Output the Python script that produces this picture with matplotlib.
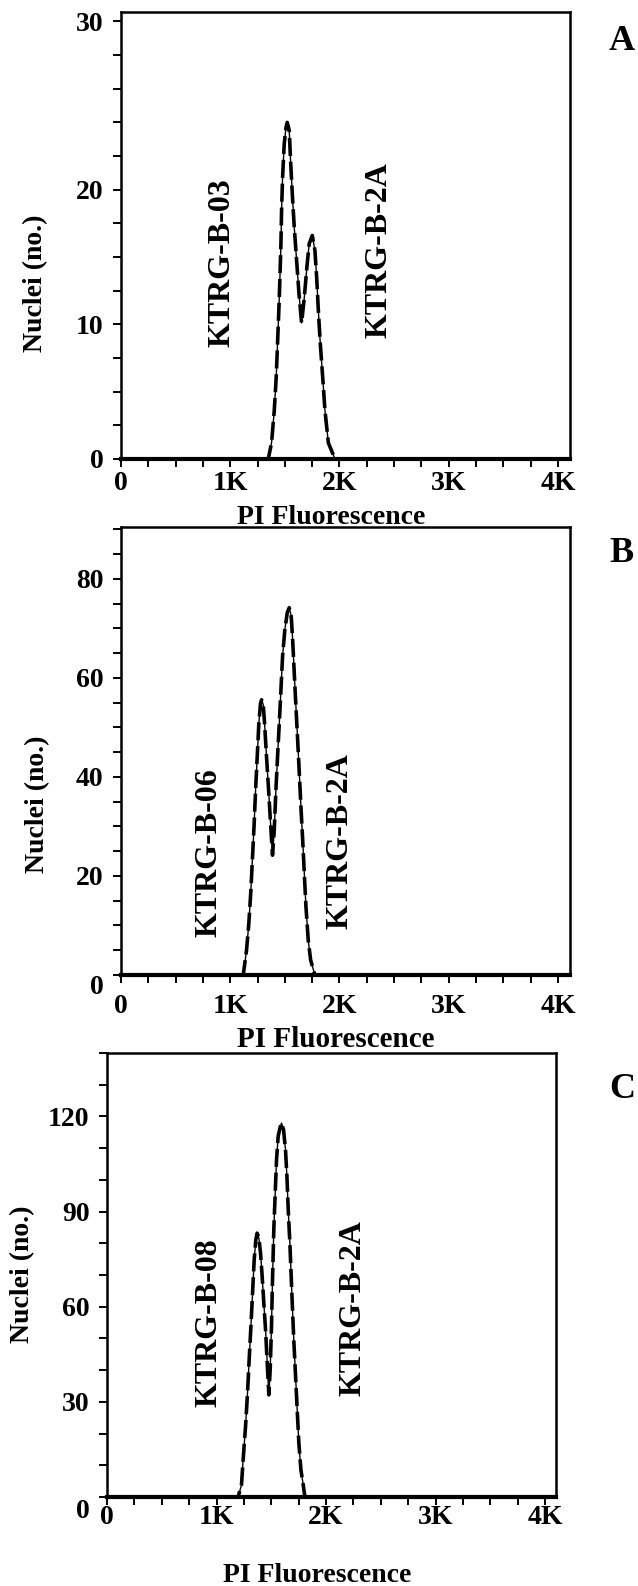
import matplotlib
matplotlib.use("Agg")
import matplotlib.pyplot as plt
import matplotlib.transforms as mtransforms
from matplotlib.ticker import FixedLocator, MultipleLocator

plt.rcParams["font.family"] = ["Liberation Serif", "DejaVu Serif"]
plt.rcParams["font.weight"] = "bold"

# Histogram traces (PI channel, nuclei count)
a_x = [0, 1348, 1378, 1403, 1421, 1433, 1445, 1455, 1464, 1470, 1479, 1494, 1510, 1522,
       1540, 1552, 1568, 1586, 1607, 1629, 1653, 1678, 1702, 1723, 1751, 1775, 1791, 1806,
       1824, 1846, 1867, 1898, 1959, 4110]
a_y = [0, 0, 1.2, 3.6, 6.1, 8.6, 11.1, 13.5, 16.0, 18.5, 20.9, 23.4, 24.6, 25.0,
       24.4, 22.2, 19.7, 17.2, 14.8, 12.3, 10.1, 12.0, 14.3, 16.0, 16.6, 15.5, 13.5, 11.1,
       8.6, 6.1, 3.6, 1.2, 0, 0]

b_x = [0, 1119, 1149, 1170, 1189, 1204, 1219, 1232, 1247, 1262, 1277, 1287, 1302, 1314,
       1332, 1351, 1369, 1387, 1403, 1418, 1433, 1449, 1464, 1479, 1500, 1522, 1540, 1558,
       1571, 1586, 1601, 1617, 1632, 1647, 1663, 1678, 1693, 1714, 1736, 1775, 4110]
b_y = [0, 0, 5.0, 10.4, 17.1, 23.9, 30.6, 37.4, 44.1, 50.9, 54.9, 55.6, 54.6, 50.9,
       44.1, 37.4, 30.6, 24.2, 29.3, 37.4, 44.1, 50.9, 57.6, 64.4, 69.8, 73.2, 74.2, 72.5,
       67.8, 61.0, 54.3, 47.5, 40.8, 34.0, 27.3, 20.5, 13.8, 7.0, 3.0, 0, 0]

c_x = [0, 1197, 1228, 1243, 1265, 1283, 1298, 1314, 1329, 1344, 1359, 1371, 1387, 1402,
       1417, 1432, 1448, 1463, 1478, 1490, 1502, 1512, 1524, 1536, 1548, 1563, 1582, 1594,
       1612, 1630, 1643, 1655, 1670, 1682, 1694, 1707, 1722, 1737, 1752, 1771, 1792, 1807, 4100]
c_y = [0, 0, 3.8, 11.7, 22.2, 32.7, 43.2, 53.7, 64.2, 74.8, 81.1, 83.2, 81.6, 76.9,
       69.5, 61.1, 52.7, 42.2, 32.2, 40.1, 53.7, 69.5, 85.3, 95.8, 106.3, 113.7, 116.8, 117.9,
       115.8, 109.5, 101.0, 90.5, 80.0, 69.5, 59.0, 48.5, 38.0, 27.4, 16.9, 8.5, 3.8, 0, 0]

x_ticks = [0, 1000, 2000, 3000, 4000]
x_labels = ["0", "1K", "2K", "3K", "4K"]

# in panel A the "30" label sits on the top tick (one minor step above 30)
a_ticks, a_labels = [0, 10, 20, 32.5], ["0", "10", "20", "30"]
b_ticks, b_labels = [0, 20, 40, 60, 80], ["0", "20", "40", "60", "80"]
c_ticks, c_labels = [0, 30, 60, 90, 120], ["0", "30", "60", "90", "120"]

left_names = ["KTRG-B-03", "KTRG-B-06", "KTRG-B-08"]
right_name = "KTRG-B-2A"
letters = ["A", "B", "C"]

W, H = 638, 1586
fig = plt.figure(figsize=(W / 100, H / 100), dpi=100)


def px_axes(x0, x1, y_top, y_bot):
    return fig.add_axes([x0 / W, 1 - y_bot / H, (x1 - x0) / W, (y_bot - y_top) / H])


panels = [
    dict(box=(121, 570, 12, 459), xs=a_x, ys=a_y, ymax=33.2, minor=2.5, ticks=a_ticks,
         labels=a_labels, xmax=4110, xpad=3.5, zero_drop=0,
         ann1=(0.2245, 0.44), ann2=(0.5735, 0.468),
         ylab=(36, 283), xlab=(237, 524, 20), letter=(622, 41)),
    dict(box=(121, 570, 527, 975), xs=b_x, ys=b_y, ymax=90.5, minor=5, ticks=b_ticks,
         labels=b_labels, xmax=4110, xpad=8, zero_drop=10,
         ann1=(0.197, 0.274), ann2=(0.487, 0.299),
         ylab=(38, 804), xlab=(237, 1047, 21), letter=(622, 553)),
    dict(box=(107, 556, 1053, 1497), xs=c_x, ys=c_y, ymax=140, minor=10, ticks=c_ticks,
         labels=c_labels, xmax=4100, xpad=0.5, zero_drop=12,
         ann1=(0.228, 0.392), ann2=(0.547, 0.426),
         ylab=(23, 1274), xlab=(223, 1582, 20), letter=(622, 1089)),
]

for i, p in enumerate(panels):
    ax = px_axes(*p["box"])
    ax.plot(p["xs"], p["ys"], color="black", lw=1.0, zorder=3)
    ax.plot(p["xs"], p["ys"], color="black", lw=2.6, ls=(0, (5, 1.6)), zorder=3)
    ax.set_xlim(0, p["xmax"])
    ax.set_ylim(0, p["ymax"])

    ax.xaxis.set_major_locator(FixedLocator(x_ticks))
    ax.set_xticklabels(x_labels)
    ax.xaxis.set_minor_locator(MultipleLocator(250))
    ax.yaxis.set_major_locator(FixedLocator(p["ticks"]))
    ax.set_yticklabels(p["labels"])
    ax.yaxis.set_minor_locator(MultipleLocator(p["minor"]))
    ax.tick_params(which="both", direction="out", length=5.5, width=1.4, color="black")
    ax.tick_params(axis="both", labelsize=20)
    ax.tick_params(axis="y", pad=7)
    ax.tick_params(axis="x", pad=p["xpad"])
    for s in ax.spines.values():
        s.set_linewidth(1.8)
    ax.spines["bottom"].set_linewidth(3)

    # the "0" count label sits a little below the baseline in B and C
    if p["zero_drop"]:
        lab = ax.get_yticklabels()[0]
        shift = mtransforms.ScaledTranslation(0, -p["zero_drop"] / 100, fig.dpi_scale_trans)
        lab.set_transform(lab.get_transform() + shift)

    ax.text(*p["ann1"], left_names[i], transform=ax.transAxes, rotation=90,
            ha="center", va="center", fontsize=23, fontweight="bold")
    ax.text(*p["ann2"], right_name, transform=ax.transAxes, rotation=90,
            ha="center", va="center", fontsize=23, fontweight="bold")

    fig.text(p["ylab"][0] / W, 1 - p["ylab"][1] / H, "Nuclei (no.)", rotation=90,
             ha="center", va="center", fontsize=20, fontweight="bold")
    fig.text(p["xlab"][0] / W, 1 - p["xlab"][1] / H, "PI Fluorescence",
             ha="left", va="baseline", fontsize=p["xlab"][2], fontweight="bold")
    fig.text(p["letter"][0] / W, 1 - p["letter"][1] / H, letters[i],
             ha="center", va="center", fontsize=26, fontweight="bold")

fig.savefig("out.png", dpi=100)
